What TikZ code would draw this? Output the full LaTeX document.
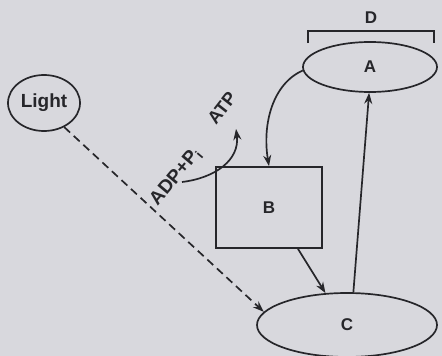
\documentclass[tikz,border=0pt]{standalone}
\usepackage{fontspec}
\setmainfont{Liberation Sans}
\usetikzlibrary{shapes.geometric,arrows.meta,calc}
\definecolor{paper}{RGB}{216,216,221}
\definecolor{ink}{RGB}{38,38,42}
\begin{document}
\begin{tikzpicture}[x=1pt,y=-1pt,
  lbl/.style={text=ink,font=\bfseries\fontsize{17}{17}\selectfont},
  big/.style={text=ink,font=\bfseries\fontsize{19}{19}\selectfont},
  outline/.style={draw=ink,line width=1.7pt},
  blob/.style={ellipse,outline,inner sep=0pt,lbl},
  tip/.style={-{Stealth[length=11pt,width=8pt]}},
  link/.style={outline,tip},
]
% paper and frame
\fill[paper] (0,0) rectangle (442,356);
\useasboundingbox (0,0) rectangle (442,356);

% states
\node[blob,minimum width=72pt,minimum height=56pt,font=\bfseries\fontsize{19}{19}\selectfont] (light) at (44,103) {Light};
\node[blob,minimum width=134pt,minimum height=50pt] (A) at (370,67) {A};
\node[rectangle,outline,minimum width=106pt,minimum height=81pt,lbl] (B) at (269,207.5) {B};
\node[blob,minimum width=180pt,minimum height=64pt] (C) at (347,325) {C};

% bracket D over A
\node[lbl] (D) at (371,18) {D};
\coordinate (dL) at (308,43);
\coordinate (dR) at (434,43);
\draw[outline] (dL) -- ++(0,-12) -| (dR);

% phosphorylation labels
\node[big,rotate=50,inner sep=0pt] (adp) at (176,177) {ADP+P\textsubscript{i}};
\node[lbl,font=\bfseries\fontsize{18}{18}\selectfont,rotate=52,inner sep=0pt] (atp) at (222,108) {ATP};
\coordinate (adpEnd) at (182,182);
\coordinate (atpEnd) at (236,129);

% connectors
\draw[link,dash pattern=on 8pt off 5pt] (light.-50) -- (C.171);
\draw[link] (C.79) -- (A.268);
\draw[link] (A.183) .. controls +(-30,13) and +(-7,-42) .. (B.north);
\draw[link] (B.-55) -- (C.124);
\draw[link] (adpEnd) .. controls (215,178) and (240,160) .. (atpEnd);
\end{tikzpicture}
\end{document}
